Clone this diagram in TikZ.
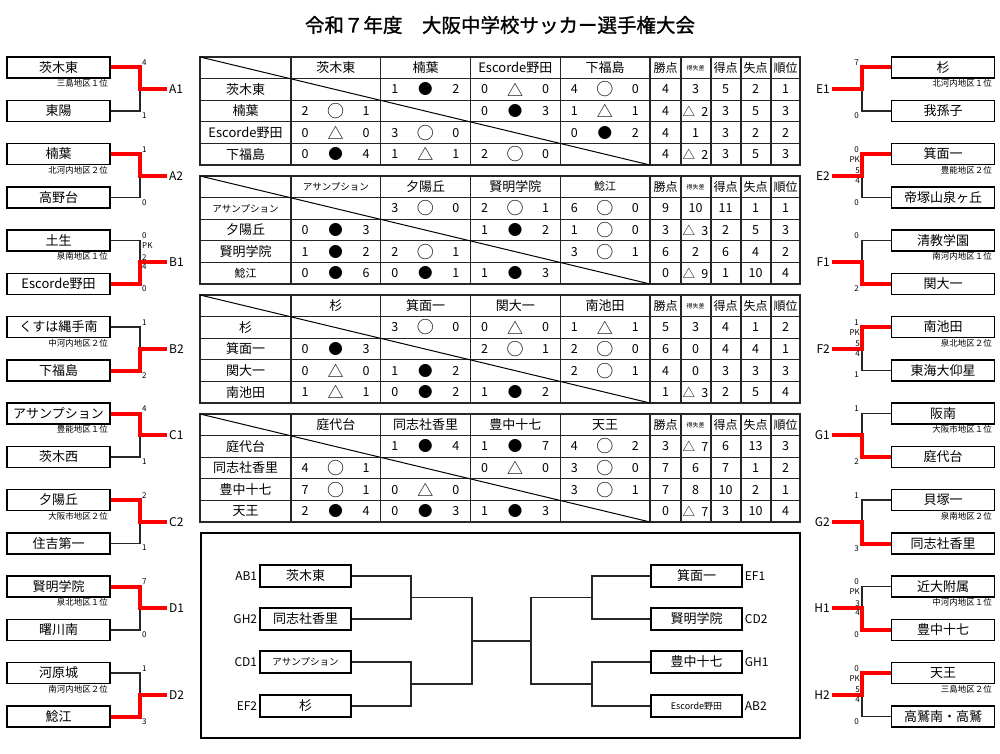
\documentclass[tikz,border=0pt]{standalone}
\usepackage{fontspec}
\setmainfont{Noto Sans CJK JP}
\newfontfamily\titlefont[FakeBold=1.2]{Noto Sans CJK JP}
\usetikzlibrary{positioning}

\begin{document}
\begin{tikzpicture}[
    x=1pt, y=-1pt,
    team/.style={rectangle, draw, line width=1.3pt, fill=white, minimum width=103pt, minimum height=21pt, inner sep=0pt, font=\fontsize{13}{15}\selectfont},
    fbox/.style={rectangle, draw, line width=1.3pt, fill=white, minimum width=91pt, minimum height=22pt, inner sep=0pt, font=\fontsize{13}{15}\selectfont},
    region/.style={inner sep=0pt, font=\fontsize{8.5}{10}\selectfont},
    score/.style={inner sep=0pt, font=\fontsize{8}{9}\selectfont},
    grp/.style={inner sep=2pt, font=\fontsize{12}{14}\selectfont},
    hdr/.style={inner sep=0pt, font=\fontsize{13}{15}\selectfont},
    cell/.style={inner sep=0pt, font=\fontsize{12.5}{14}\selectfont},
    symW/.style={font=\fontsize{17}{17}\selectfont, node contents=○},
    symL/.style={font=\fontsize{14.5}{15}\selectfont, node contents=●},
    symD/.style={font=\fontsize{16}{16}\selectfont, node contents=△},
    win/.style={draw=red, line width=4pt},
    lose/.style={draw=black!85, line width=1.1pt},
    bline/.style={draw=black!85, line width=1.2pt},
    grid/.style={draw=black!85, line width=1.2pt}
]
\useasboundingbox (0,0) rectangle (1000,754);

% Title
\node[font=\titlefont\fontsize{19.5}{22}\selectfont] (title) at (500,25) {令和７年度　大阪中学校サッカー選手権大会};

% Left groups A1 - D2
\foreach \g/\y/\ta/\ra/\tb/\w/\sa/\sb in {
    A1/67.5/茨木東/三島地区１位/東陽/1/4/1,
    A2/154/楠葉/北河内地区２位/高野台/1/1/0,
    B1/240.5/土生/泉南地区１位/Escorde野田/2/0/0,
    B2/327/くすは縄手南/中河内地区２位/下福島/2/1/2,
    C1/413.5/アサンプション/豊能地区１位/茨木西/1/4/1,
    C2/500/夕陽丘/大阪市地区２位/住吉第一/1/2/1,
    D1/586.5/賢明学院/泉北地区１位/曙川南/1/7/0,
    D2/673/河原城/南河内地区２位/鯰江/2/1/3}
{
    \node[team] (\g-t) at (58.5,\y) {\ta};
    \node[team] (\g-b) at (58.5,\y+43.5) {\tb};
    \node[region, anchor=north east] (\g-r) at (108,\y+12) {\ra};
    \coordinate (\g-j) at (140,\y+21.75);
    \node[grp, anchor=west] (\g-l) at (167,\y+21.75) {\g};
    \node[score, anchor=south west] (\g-sa) at (142,\y-1.5) {\sa};
    \node[score, anchor=north west] (\g-sb) at (142,\y+45) {\sb};
    \ifnum\w=1\relax
        \draw[lose] (\g-b.east) -| (\g-j);
        \draw[win] (\g-t.east) -| (\g-j) -- (\g-l.west);
    \else
        \draw[lose] (\g-t.east) -| (\g-j);
        \draw[win] (\g-b.east) -| (\g-j) -- (\g-l.west);
    \fi
}
\foreach \g/\y/\pa/\pb in {B1/240.5/2/4}
{
    \node[score, anchor=north west] (\g-pk) at (142,\y+2) {PK};
    \node[score, anchor=south west] (\g-pa) at (142,\y+20) {\pa};
    \node[score, anchor=north west] (\g-pb) at (142,\y+23.5) {\pb};
}

% Right groups E1 - H2
\foreach \g/\y/\ta/\ra/\tb/\w/\sa/\sb in {
    E1/67.5/杉/北河内地区１位/我孫子/1/7/0,
    E2/154/箕面一/豊能地区２位/帝塚山泉ヶ丘/1/0/0,
    F1/240.5/清教学園/南河内地区１位/関大一/2/0/2,
    F2/327/南池田/泉北地区２位/東海大仰星/1/1/1,
    G1/413.5/阪南/大阪市地区１位/庭代台/2/1/2,
    G2/500/貝塚一/泉南地区２位/同志社香里/2/1/3,
    H1/586.5/近大附属/中河内地区１位/豊中十七/2/0/0,
    H2/673/天王/三島地区２位/高鷲南・高鷲/1/0/0}
{
    \node[team] (\g-t) at (943,\y) {\ta};
    \node[team] (\g-b) at (943,\y+43.5) {\tb};
    \node[region, anchor=north east] (\g-r) at (992,\y+12) {\ra};
    \coordinate (\g-j) at (862,\y+21.75);
    \node[grp, anchor=east] (\g-l) at (832,\y+21.75) {\g};
    \node[score, anchor=south east] (\g-sa) at (859,\y-1.5) {\sa};
    \node[score, anchor=north east] (\g-sb) at (859,\y+45) {\sb};
    \ifnum\w=1\relax
        \draw[lose] (\g-b.west) -| (\g-j);
        \draw[win] (\g-t.west) -| (\g-j) -- (\g-l.east);
    \else
        \draw[lose] (\g-t.west) -| (\g-j);
        \draw[win] (\g-b.west) -| (\g-j) -- (\g-l.east);
    \fi
}
\foreach \g/\y/\pa/\pb in {E2/154/5/4, F2/327/5/4, H1/586.5/3/4, H2/673/5/4}
{
    \node[score, anchor=north east] (\g-pk) at (860,\y+2) {PK};
    \node[score, anchor=south east] (\g-pa) at (860,\y+20) {\pa};
    \node[score, anchor=north east] (\g-pb) at (860,\y+23.5) {\pb};
}

% League tables: grid and headers
\foreach \k/\ta/\tb/\tc/\td in {
    0/茨木東/楠葉/Escorde野田/下福島,
    1/{\fontsize{9.5}{11}\selectfont アサンプション}/夕陽丘/賢明学院/{\fontsize{11}{12}\selectfont 鯰江},
    2/杉/箕面一/関大一/南池田,
    3/庭代台/同志社香里/豊中十七/天王}
{
    \draw[grid, line width=1.6pt] (200,{57+119*\k}) rectangle (800,{165+119*\k});
    \foreach \i in {1,...,4}
        \draw[grid] (200,{57+119*\k+21.6*\i}) -- (800,{57+119*\k+21.6*\i});
    \foreach \x in {291,380.75,470.5,560.25,650,681,711,741,771}
        \draw[grid] (\x,{57+119*\k}) -- (\x,{165+119*\k});
    \draw[line width=1pt] (200,{57+119*\k}) -- (650,{165+119*\k});
    \foreach \n [count=\c] in {\ta,\tb,\tc,\td} {
        \node[hdr] (t\k-h\c) at ({291+89.75*(\c-0.5)},{67.8+119*\k}) {\n};
        \node[hdr] (t\k-n\c) at (245.5,{67.8+119*\k+21.6*\c}) {\n};
    }
    \foreach \h [count=\c] in {勝点,{\fontsize{6}{7}\selectfont 得失差},得点,失点,順位}
        \node[hdr, font=\fontsize{12}{14}\selectfont] (t\k-s\c) at ({665.5+30*(\c-1)},{67.8+119*\k}) {\h};
}

% League tables: results (W = ○, L = ●, D = △)
\foreach \k/\r/\cells/\stats in {
    0/1/{2/1/L/2, 3/0/D/0, 4/4/W/0}/{4,3,5,2,1},
    0/2/{1/2/W/1, 3/0/L/3, 4/1/D/1}/{4,△\enspace 2,3,5,3},
    0/3/{1/0/D/0, 2/3/W/0, 4/0/L/2}/{4,1,3,2,2},
    0/4/{1/0/L/4, 2/1/D/1, 3/2/W/0}/{4,△\enspace 2,3,5,3},
    1/1/{2/3/W/0, 3/2/W/1, 4/6/W/0}/{9,10,11,1,1},
    1/2/{1/0/L/3, 3/1/L/2, 4/1/W/0}/{3,△\enspace 3,2,5,3},
    1/3/{1/1/L/2, 2/2/W/1, 4/3/W/1}/{6,2,6,4,2},
    1/4/{1/0/L/6, 2/0/L/1, 3/1/L/3}/{0,△\enspace 9,1,10,4},
    2/1/{2/3/W/0, 3/0/D/0, 4/1/D/1}/{5,3,4,1,2},
    2/2/{1/0/L/3, 3/2/W/1, 4/2/W/0}/{6,0,4,4,1},
    2/3/{1/0/D/0, 2/1/L/2, 4/2/W/1}/{4,0,3,3,3},
    2/4/{1/1/D/1, 2/0/L/2, 3/1/L/2}/{1,△\enspace 3,2,5,4},
    3/1/{2/1/L/4, 3/1/L/7, 4/4/W/2}/{3,△\enspace 7,6,13,3},
    3/2/{1/4/W/1, 3/0/D/0, 4/3/W/0}/{7,6,7,1,2},
    3/3/{1/7/W/1, 2/0/D/0, 4/3/W/1}/{7,8,10,2,1},
    3/4/{1/2/L/4, 2/0/L/3, 3/1/L/3}/{0,△\enspace 7,3,10,4}}
{
    \foreach \c/\ga/\sy/\gb in \cells {
        \node[cell] (t\k-\r-\c-a) at ({291+89.75*(\c-1)+14},{67.8+119*\k+21.6*\r}) {\ga};
        \node (t\k-\r-\c-s) at ({291+89.75*(\c-1)+44.5},{67.8+119*\k+21.6*\r}) [cell, sym\sy];
        \node[cell] (t\k-\r-\c-b) at ({291+89.75*(\c-1)+75},{67.8+119*\k+21.6*\r}) {\gb};
    }
    \foreach \v [count=\i] in \stats
        \node[cell] (t\k-\r-v\i) at ({665.5+30*(\i-1)},{67.8+119*\k+21.6*\r}) {\v};
}

% Final tournament
\draw[line width=2pt] (201,533) rectangle (800,738);
\foreach \g/\y/\n in {AB1/576/茨木東, GH2/619/同志社香里, CD1/662/{\fontsize{9.5}{11}\selectfont アサンプション}, EF2/706/杉}
{
    \node[fbox] (\g) at (305.5,\y) {\n};
    \node[grp, anchor=east] (\g-l) at (\g.west) {\g};
}
\foreach \g/\y/\n in {EF1/576/箕面一, CD2/619/賢明学院, GH1/662/豊中十七, AB2/706/{\fontsize{9}{11}\selectfont Escorde野田}}
{
    \node[fbox] (\g) at (696.5,\y) {\n};
    \node[grp, anchor=west] (\g-l) at (\g.east) {\g};
}
\coordinate (fl1) at (411,597.5);
\coordinate (fl2) at (411,684);
\coordinate (fL) at (472,641);
\coordinate (fR) at (531,641);
\coordinate (fr1) at (592,597.5);
\coordinate (fr2) at (592,684);
\draw[bline] (AB1.east) -| (fl1);
\draw[bline] (GH2.east) -| (fl1);
\draw[bline] (CD1.east) -| (fl2);
\draw[bline] (EF2.east) -| (fl2);
\draw[bline] (fl1) -| (fL);
\draw[bline] (fl2) -| (fL);
\draw[bline] (fL) -- (fR);
\draw[bline] (EF1.west) -| (fr1);
\draw[bline] (CD2.west) -| (fr1);
\draw[bline] (GH1.west) -| (fr2);
\draw[bline] (AB2.west) -| (fr2);
\draw[bline] (fr1) -| (fR);
\draw[bline] (fr2) -| (fR);

\end{tikzpicture}
\end{document}
